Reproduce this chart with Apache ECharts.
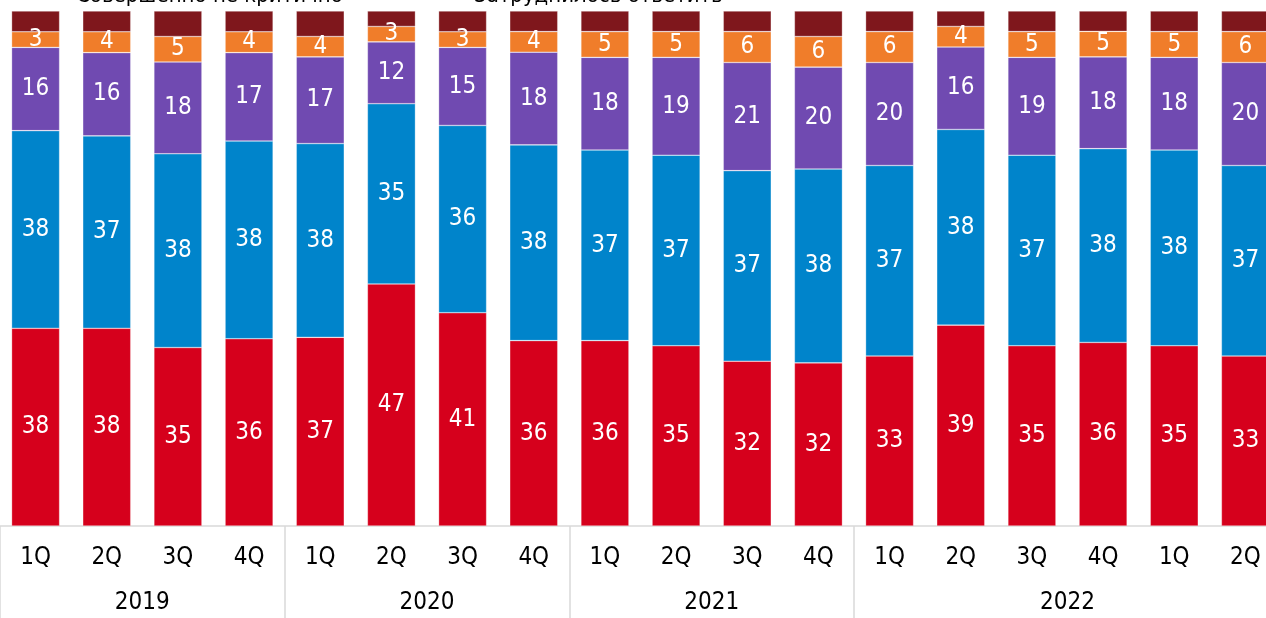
<!DOCTYPE html>
<html>
<head>
<meta charset="utf-8">
<script src="https://cdn.jsdelivr.net/npm/echarts@6/dist/echarts.min.js"></script>
<style>
    html, body { margin: 0; padding: 0; background: #fff; }
    #main { width: 1266px; height: 618px; }
</style>
</head>
<body>
<div id="main"></div>
<script>
var quarters = ['1Q', '2Q', '3Q', '4Q', '1Q', '2Q', '3Q', '4Q', '1Q', '2Q', '3Q', '4Q', '1Q', '2Q', '3Q', '4Q', '1Q', '2Q'];
var years = ['2019', '2020', '2021', '2022'];
var yearStarts = [0, 4, 8, 12, 18];     // границы групп
var yearCenters = [2, 6, 10, 15];       // где подписывать год

var veryCritical = [38, 38, 35, 36, 37, 47, 41, 36, 36, 35, 32, 32, 33, 39, 35, 36, 35, 33];
var ratherCritical = [38, 37, 38, 38, 38, 35, 36, 38, 37, 37, 37, 38, 37, 38, 37, 38, 38, 37];
var ratherNotCritical = [16, 16, 18, 17, 17, 12, 15, 18, 18, 19, 21, 20, 20, 16, 19, 18, 18, 20];
var notCritical = [3, 4, 5, 4, 4, 3, 3, 4, 5, 5, 6, 6, 6, 4, 5, 5, 5, 6];
var hardToSay = [4, 4, 5, 4, 5, 3, 4, 4, 4, 4, 4, 5, 4, 3, 4, 4, 4, 4];

var names = ['Очень критично', 'Скорее критично', 'Скорее не критично', 'Совершенно не критично', 'Затруднилось ответить'];
var colors = ['#d6001c', '#0084cb', '#704ab1', '#f07d2a', '#7f171c'];
var raw = [veryCritical, ratherCritical, ratherNotCritical, notCritical, hardToSay];

var font = "'DejaVu Sans Condensed', 'DejaVu Sans', sans-serif";

// нормируем до 100%
var totals = [];
for (var i = 0; i < quarters.length; i++) {
    var s = 0;
    for (var k = 0; k < raw.length; k++) s += raw[k][i];
    totals[i] = s;
}

var series = [];
for (var k = 0; k < raw.length; k++) {
    series.push({
        name: names[k],
        type: 'bar',
        stack: 'all',
        xAxisIndex: 0,
        barWidth: 48,
        color: colors[k],
        itemStyle: { borderColor: 'rgba(255,255,255,0.5)', borderWidth: 0.6 },
        label: {
            show: k < 4,
            position: 'inside',
            color: '#fff',
            fontSize: 24,
            fontFamily: font,
            formatter: (function (arr) {
                return function (p) { return arr[p.dataIndex]; };
            })(raw[k])
        },
        data: raw[k].map(function (v, i) { return v / totals[i] * 100; })
    });
}

var myChart = echarts.init(document.getElementById('main'));
var option = {
    backgroundColor: '#fff',
    animation: false,
    legend: [
        {
            data: ['Совершенно не критично'],
            left: 62, top: -15, padding: 0,
            itemWidth: 8, itemHeight: 6,
            textStyle: { fontSize: 22, fontFamily: font, color: '#000' }
        },
        {
            data: ['Затруднилось ответить'],
            left: 460, top: -15, padding: 0,
            itemWidth: 8, itemHeight: 6,
            textStyle: { fontSize: 22, fontFamily: font, color: '#000' }
        }
    ],
    grid: { left: 0, top: 11, width: 1281, bottom: 92, outerBoundsMode: 'none' },
    xAxis: [
        {
            type: 'category',
            data: quarters,
            position: 'bottom',
            axisLine: { lineStyle: { color: '#d9d9d9', width: 1.5 } },
            axisTick: { show: false },
            axisLabel: { fontSize: 24, fontFamily: font, color: '#000', margin: 20 }
        },
        {
            type: 'value',
            min: 0,
            max: 18,
            position: 'bottom',
            splitLine: { show: false },
            axisLine: { show: false },
            axisTick: {
                show: true,
                customValues: yearStarts,
                length: 92,
                lineStyle: { color: '#d9d9d9', width: 1.5 }
            },
            axisLabel: {
                customValues: yearCenters,
                fontSize: 24,
                fontFamily: font,
                color: '#000',
                margin: 65,
                formatter: function (v) {
                    return years[yearCenters.indexOf(v)];
                }
            }
        }
    ],
    yAxis: { type: 'value', min: 0, max: 100, show: false },
    series: series
};
myChart.setOption(option);
</script>
</body>
</html>
